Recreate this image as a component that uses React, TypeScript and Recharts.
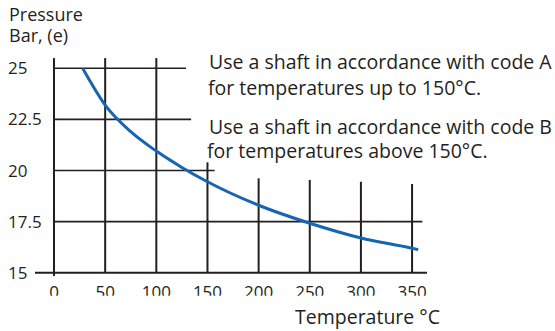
import React from 'react';
import { LineChart, Line, XAxis, YAxis, ReferenceLine } from 'recharts';

// curve: temperature (°C) -> pressure (bar, e)
const temps = [28, 50, 75, 100, 125, 150, 200, 250, 300, 350, 356];
const pressures = [25, 23.2, 21.9, 20.95, 20.15, 19.45, 18.3, 17.42, 16.7, 16.2, 16.13];

const xTicks = [0, 50, 100, 150, 200, 250, 300, 350];
const yTicks = [15, 17.5, 20, 22.5, 25];

// how far each grid line runs (from the picture)
const hLineEnds = [
  { p: 25, to: 129 },
  { p: 22.5, to: 134 },
  { p: 20, to: 157 },
  { p: 17.5, to: 360 },
];
const vLineTops = [
  { t: 50, top: 25.5 },
  { t: 100, top: 25.5 },
  { t: 150, top: 20.4 },
  { t: 200, top: 19.62 },
  { t: 250, top: 19.54 },
  { t: 300, top: 19.45 },
  { t: 350, top: 19.34 },
];

const data = temps.map((t, i) => ({ t, p: pressures[i] }));

const INK = '#231f20';
const FONT = '"Open Sans", sans-serif';

const YTick = (props: any) => {
  const { y, payload } = props;
  return (
    <text x={8} y={y} dy={6} fill={INK} fontSize={17} fontFamily={FONT} textAnchor="start">
      {payload.value}
    </text>
  );
};

const XTick = (props: any) => {
  const { x, y, payload, index } = props;
  const id = `xclip-${index}`;
  return (
    <g>
      <defs>
        <clipPath id={id}>
          <rect x={x - 30} y={y - 5} width={60} height={16} />
        </clipPath>
      </defs>
      <text x={x} y={y} dy={13} fill={INK} fontSize={17} fontFamily={FONT} textAnchor="middle" clipPath={`url(#${id})`}>
        {payload.value}
      </text>
    </g>
  );
};

export default function App() {
  return (
    <div style={{ position: 'absolute', left: 0, top: 0, width: 555, height: 331, background: '#fff' }}>
      <LineChart width={555} height={331} data={data} margin={{ top: 58.1, right: 128, bottom: 24.2, left: 0 }}>
        <XAxis
          dataKey="t"
          type="number"
          domain={[-18.6, 364.6]}
          ticks={xTicks}
          axisLine={false}
          tickLine={false}
          height={30}
          tick={<XTick />}
          allowDataOverflow
        />
        <YAxis
          type="number"
          domain={[14.8, 25.5]}
          ticks={yTicks}
          axisLine={false}
          tickLine={false}
          width={35}
          tick={<YTick />}
          allowDataOverflow
        />
        {hLineEnds.map((h) => (
          <ReferenceLine key={`h${h.p}`} segment={[{ x: 0, y: h.p }, { x: h.to, y: h.p }]} stroke={INK} strokeWidth={1.6} />
        ))}
        {vLineTops.map((v) => (
          <ReferenceLine key={`v${v.t}`} segment={[{ x: v.t, y: 15 }, { x: v.t, y: v.top }]} stroke={INK} strokeWidth={2} />
        ))}
        {/* axes drawn as segments so they can overhang like the original */}
        <ReferenceLine segment={[{ x: -18.6, y: 15 }, { x: 364.6, y: 15 }]} stroke={INK} strokeWidth={2} />
        <ReferenceLine segment={[{ x: 0, y: 14.84 }, { x: 0, y: 25.5 }]} stroke={INK} strokeWidth={2} />
        <Line
          type="monotone"
          dataKey="p"
          stroke="#1565b5"
          strokeWidth={3}
          dot={false}
          isAnimationActive={false}
        />
      </LineChart>
      <svg width={555} height={331} style={{ position: 'absolute', left: 0, top: 0, pointerEvents: 'none' }}>
        <g fill={INK} fontFamily={FONT} fontSize={18}>
          <text x={9} y={21}>Pressure</text>
          <text x={9} y={42}>Bar, (e)</text>
        </g>
        <g fill={INK} fontFamily={FONT} fontSize={19.5}>
          <text x={209} y={69}>Use a shaft in accordance with code A</text>
          <text x={208} y={95}>for temperatures up to 150°C.</text>
          <text x={209} y={134}>Use a shaft in accordance with code B</text>
          <text x={207} y={158}>for temperatures above 150°C.</text>
          <text x={440} y={324} textAnchor="end">Temperature °C</text>
        </g>
      </svg>
    </div>
  );
}
